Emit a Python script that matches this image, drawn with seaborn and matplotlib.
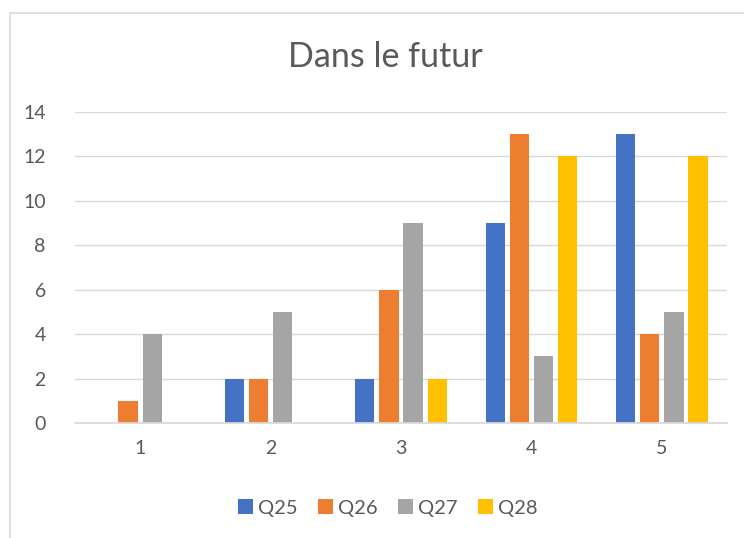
import pandas as pd
import matplotlib.pyplot as plt
import seaborn as sns
from matplotlib.patches import Rectangle

# données
categories = ['1', '2', '3', '4', '5']
series = ['Q25', 'Q26', 'Q27', 'Q28']
q25 = [0, 2, 2, 9, 13]
q26 = [1, 2, 6, 13, 4]
q27 = [4, 5, 9, 3, 5]
q28 = [0, 0, 2, 12, 12]
colors = ['#4472C4', '#ED7D31', '#A5A5A5', '#FFC000']

df = pd.DataFrame({'cat': categories * 4,
                   'serie': [s for s in series for _ in categories],
                   'val': q25 + q26 + q27 + q28})

sns.set_theme(style='white')
plt.rcParams['font.family'] = ['Lato', 'DejaVu Sans']

fig = plt.figure(figsize=(7.44, 5.38), dpi=100)
W, H = 744, 538
ax = fig.add_axes([75 / W, 1 - 423 / H, (727 - 75) / W, (423 - 112) / H])

sns.barplot(data=df, x='cat', y='val', hue='serie', palette=colors,
            width=0.74, gap=0.2, ax=ax, legend=True, saturation=1,
            linewidth=0)

ax.set_ylim(0, 14)
ax.set_xlim(-0.5, 4.5)
ax.set_yticks(range(0, 15, 2))
ax.yaxis.grid(True, color='#D9D9D9', linewidth=1)
ax.set_axisbelow(True)
for s in ['top', 'right', 'left']:
    ax.spines[s].set_visible(False)
ax.spines['bottom'].set_color('#D9D9D9')
ax.tick_params(axis='both', length=0, labelsize=14, colors='#595959')
ax.tick_params(axis='y', pad=21)
ax.tick_params(axis='x', pad=12)
ax.set_xlabel('')
ax.set_ylabel('')

fig.text(385 / W, 1 - 57 / H, 'Dans le futur', ha='center', va='center',
         fontsize=24.5, color='#595959')

handles, labels = ax.get_legend_handles_labels()
ax.legend(handles, labels, loc='center', bbox_to_anchor=(388 / W, 1 - 508 / H),
          bbox_transform=fig.transFigure, ncol=4, frameon=False,
          fontsize=14.5, labelcolor='#595959', handlelength=0.75, handleheight=0.75,
          handletextpad=0.25, columnspacing=1.0)

# cadre du graphique
fig.patches.append(Rectangle((10 / W, -0.1), 1.2, 1.1 - 13 / H,
                             transform=fig.transFigure, fill=False,
                             edgecolor='#D9D9D9', linewidth=1.2))

fig.savefig('out.png', dpi=100)
